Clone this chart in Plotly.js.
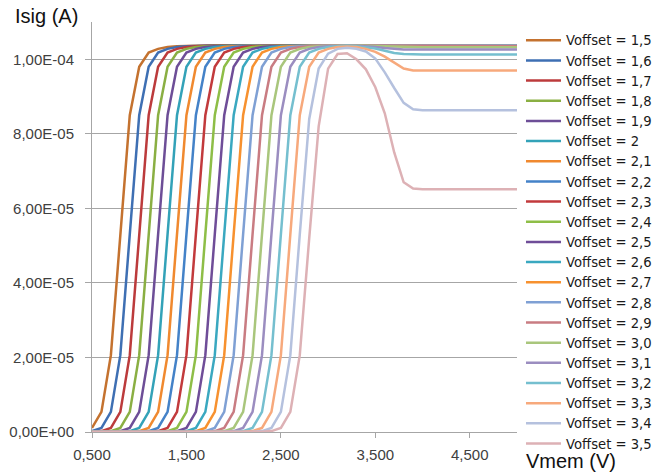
<!DOCTYPE html>
<html>
<head>
<meta charset="utf-8">
<script src="https://cdn.plot.ly/plotly-3.0.1.min.js"></script>
<style>html,body{margin:0;padding:0;background:#fff;}#chart{width:670px;height:476px;}</style>
</head>
<body>
<div id="chart"></div>
<script>
// Vmem (V) sample points
const vmem = [0.5,0.6,0.7,0.8,0.9,1.0,1.1,1.2,1.3,1.4,1.5,1.6,1.7,1.8,1.9,2.0,2.1,2.2,2.3,2.4,2.5,2.6,2.7,2.8,2.9,3.0,3.1,3.2,3.3,3.4,3.5,3.6,3.7,3.8,3.9,4.0,4.1,4.2,4.3,4.4,4.5,4.6,4.7,4.8,4.9,5.0];

const seriesNames = ["Voffset = 1,5","Voffset = 1,6","Voffset = 1,7","Voffset = 1,8","Voffset = 1,9","Voffset = 2","Voffset = 2,1","Voffset = 2,2","Voffset = 2,3","Voffset = 2,4","Voffset = 2,5","Voffset = 2,6","Voffset = 2,7","Voffset = 2,8","Voffset = 2,9","Voffset = 3,0","Voffset = 3,1","Voffset = 3,2","Voffset = 3,3","Voffset = 3,4","Voffset = 3,5"];

// Isig (A) for each Voffset
const isig_1_5 = [1.1e-6,5.4e-6,20.6e-6,53e-6,85e-6,98e-6,101.8e-6,102.8e-6,103.3e-6,103.5e-6,103.6e-6,103.7e-6,103.7e-6,103.7e-6,103.7e-6,103.7e-6,103.7e-6,103.7e-6,103.7e-6,103.7e-6,103.7e-6,103.7e-6,103.7e-6,103.7e-6,103.7e-6,103.7e-6,103.7e-6,103.7e-6,103.7e-6,103.7e-6,103.7e-6,103.7e-6,103.7e-6,103.7e-6,103.7e-6,103.7e-6,103.7e-6,103.7e-6,103.7e-6,103.7e-6,103.7e-6,103.7e-6,103.7e-6,103.7e-6,103.7e-6,103.7e-6];
const isig_1_6 = [0.25e-6,1.1e-6,5.4e-6,20.6e-6,53e-6,85e-6,98e-6,101.8e-6,102.8e-6,103.3e-6,103.5e-6,103.6e-6,103.7e-6,103.7e-6,103.7e-6,103.7e-6,103.7e-6,103.7e-6,103.7e-6,103.7e-6,103.7e-6,103.7e-6,103.7e-6,103.7e-6,103.7e-6,103.7e-6,103.7e-6,103.7e-6,103.7e-6,103.7e-6,103.7e-6,103.7e-6,103.7e-6,103.7e-6,103.7e-6,103.7e-6,103.7e-6,103.7e-6,103.7e-6,103.7e-6,103.7e-6,103.7e-6,103.7e-6,103.7e-6,103.7e-6,103.7e-6];
const isig_1_7 = [0.05e-6,0.25e-6,1.1e-6,5.4e-6,20.6e-6,53e-6,85e-6,98e-6,101.8e-6,102.8e-6,103.3e-6,103.5e-6,103.6e-6,103.7e-6,103.7e-6,103.7e-6,103.7e-6,103.7e-6,103.7e-6,103.7e-6,103.7e-6,103.7e-6,103.7e-6,103.7e-6,103.7e-6,103.7e-6,103.7e-6,103.7e-6,103.7e-6,103.7e-6,103.7e-6,103.7e-6,103.7e-6,103.7e-6,103.7e-6,103.7e-6,103.7e-6,103.7e-6,103.7e-6,103.7e-6,103.7e-6,103.7e-6,103.7e-6,103.7e-6,103.7e-6,103.7e-6];
const isig_1_8 = [0,0.05e-6,0.25e-6,1.1e-6,5.4e-6,20.6e-6,53e-6,85e-6,98e-6,101.8e-6,102.8e-6,103.3e-6,103.5e-6,103.6e-6,103.7e-6,103.7e-6,103.7e-6,103.7e-6,103.7e-6,103.7e-6,103.7e-6,103.7e-6,103.7e-6,103.7e-6,103.7e-6,103.7e-6,103.7e-6,103.7e-6,103.7e-6,103.7e-6,103.7e-6,103.7e-6,103.7e-6,103.7e-6,103.7e-6,103.7e-6,103.7e-6,103.7e-6,103.7e-6,103.7e-6,103.7e-6,103.7e-6,103.7e-6,103.7e-6,103.7e-6,103.7e-6];
const isig_1_9 = [0,0,0.05e-6,0.25e-6,1.1e-6,5.4e-6,20.6e-6,53e-6,85e-6,98e-6,101.8e-6,102.8e-6,103.3e-6,103.5e-6,103.6e-6,103.7e-6,103.7e-6,103.7e-6,103.7e-6,103.7e-6,103.7e-6,103.7e-6,103.7e-6,103.7e-6,103.7e-6,103.7e-6,103.7e-6,103.7e-6,103.7e-6,103.7e-6,103.7e-6,103.7e-6,103.7e-6,103.7e-6,103.7e-6,103.7e-6,103.7e-6,103.7e-6,103.7e-6,103.7e-6,103.7e-6,103.7e-6,103.7e-6,103.7e-6,103.7e-6,103.7e-6];
const isig_2_0 = [0,0,0,0.05e-6,0.25e-6,1.1e-6,5.4e-6,20.6e-6,53e-6,85e-6,98e-6,101.8e-6,102.8e-6,103.3e-6,103.5e-6,103.6e-6,103.7e-6,103.7e-6,103.7e-6,103.7e-6,103.7e-6,103.7e-6,103.7e-6,103.7e-6,103.7e-6,103.7e-6,103.7e-6,103.7e-6,103.7e-6,103.7e-6,103.7e-6,103.7e-6,103.7e-6,103.7e-6,103.7e-6,103.7e-6,103.7e-6,103.7e-6,103.7e-6,103.7e-6,103.7e-6,103.7e-6,103.7e-6,103.7e-6,103.7e-6,103.7e-6];
const isig_2_1 = [0,0,0,0,0.05e-6,0.25e-6,1.1e-6,5.4e-6,20.6e-6,53e-6,85e-6,98e-6,101.8e-6,102.8e-6,103.3e-6,103.5e-6,103.6e-6,103.7e-6,103.7e-6,103.7e-6,103.7e-6,103.7e-6,103.7e-6,103.7e-6,103.7e-6,103.7e-6,103.7e-6,103.7e-6,103.7e-6,103.7e-6,103.7e-6,103.7e-6,103.7e-6,103.7e-6,103.7e-6,103.7e-6,103.7e-6,103.7e-6,103.7e-6,103.7e-6,103.7e-6,103.7e-6,103.7e-6,103.7e-6,103.7e-6,103.7e-6];
const isig_2_2 = [0,0,0,0,0,0.05e-6,0.25e-6,1.1e-6,5.4e-6,20.6e-6,53e-6,85e-6,98e-6,101.8e-6,102.8e-6,103.3e-6,103.5e-6,103.6e-6,103.7e-6,103.7e-6,103.7e-6,103.7e-6,103.7e-6,103.7e-6,103.7e-6,103.7e-6,103.7e-6,103.7e-6,103.7e-6,103.7e-6,103.7e-6,103.7e-6,103.7e-6,103.7e-6,103.7e-6,103.7e-6,103.7e-6,103.7e-6,103.7e-6,103.7e-6,103.7e-6,103.7e-6,103.7e-6,103.7e-6,103.7e-6,103.7e-6];
const isig_2_3 = [0,0,0,0,0,0,0.05e-6,0.25e-6,1.1e-6,5.4e-6,20.6e-6,53e-6,85e-6,98e-6,101.8e-6,102.8e-6,103.3e-6,103.5e-6,103.6e-6,103.7e-6,103.7e-6,103.7e-6,103.7e-6,103.7e-6,103.7e-6,103.7e-6,103.7e-6,103.7e-6,103.7e-6,103.7e-6,103.7e-6,103.7e-6,103.7e-6,103.7e-6,103.7e-6,103.7e-6,103.7e-6,103.7e-6,103.7e-6,103.7e-6,103.7e-6,103.7e-6,103.7e-6,103.7e-6,103.7e-6,103.7e-6];
const isig_2_4 = [0,0,0,0,0,0,0,0.05e-6,0.25e-6,1.1e-6,5.4e-6,20.6e-6,53e-6,85e-6,98e-6,101.8e-6,102.8e-6,103.3e-6,103.5e-6,103.6e-6,103.7e-6,103.7e-6,103.7e-6,103.7e-6,103.7e-6,103.7e-6,103.7e-6,103.7e-6,103.7e-6,103.7e-6,103.7e-6,103.7e-6,103.7e-6,103.7e-6,103.7e-6,103.7e-6,103.7e-6,103.7e-6,103.7e-6,103.7e-6,103.7e-6,103.7e-6,103.7e-6,103.7e-6,103.7e-6,103.7e-6];
const isig_2_5 = [0,0,0,0,0,0,0,0,0.05e-6,0.25e-6,1.1e-6,5.4e-6,20.6e-6,53e-6,85e-6,98e-6,101.8e-6,102.8e-6,103.3e-6,103.5e-6,103.6e-6,103.7e-6,103.7e-6,103.7e-6,103.7e-6,103.7e-6,103.7e-6,103.7e-6,103.7e-6,103.7e-6,103.7e-6,103.7e-6,103.7e-6,103.7e-6,103.7e-6,103.7e-6,103.7e-6,103.7e-6,103.7e-6,103.7e-6,103.7e-6,103.7e-6,103.7e-6,103.7e-6,103.7e-6,103.7e-6];
const isig_2_6 = [0,0,0,0,0,0,0,0,0,0.05e-6,0.25e-6,1.1e-6,5.4e-6,20.6e-6,53e-6,85e-6,98e-6,101.8e-6,102.8e-6,103.3e-6,103.5e-6,103.6e-6,103.7e-6,103.7e-6,103.7e-6,103.7e-6,103.7e-6,103.7e-6,103.7e-6,103.7e-6,103.7e-6,103.7e-6,103.7e-6,103.7e-6,103.7e-6,103.7e-6,103.7e-6,103.7e-6,103.7e-6,103.7e-6,103.7e-6,103.7e-6,103.7e-6,103.7e-6,103.7e-6,103.7e-6];
const isig_2_7 = [0,0,0,0,0,0,0,0,0,0,0.05e-6,0.25e-6,1.1e-6,5.4e-6,20.6e-6,53e-6,85e-6,98e-6,101.8e-6,102.8e-6,103.3e-6,103.5e-6,103.6e-6,103.7e-6,103.7e-6,103.7e-6,103.7e-6,103.7e-6,103.7e-6,103.7e-6,103.7e-6,103.7e-6,103.7e-6,103.7e-6,103.7e-6,103.7e-6,103.7e-6,103.7e-6,103.7e-6,103.7e-6,103.7e-6,103.7e-6,103.7e-6,103.7e-6,103.7e-6,103.7e-6];
const isig_2_8 = [0,0,0,0,0,0,0,0,0,0,0,0.05e-6,0.25e-6,1.1e-6,5.4e-6,20.6e-6,53e-6,85e-6,98e-6,101.8e-6,102.8e-6,103.3e-6,103.5e-6,103.6e-6,103.7e-6,103.7e-6,103.7e-6,103.7e-6,103.7e-6,103.7e-6,103.7e-6,103.7e-6,103.7e-6,103.7e-6,103.7e-6,103.7e-6,103.7e-6,103.7e-6,103.7e-6,103.7e-6,103.7e-6,103.7e-6,103.7e-6,103.7e-6,103.7e-6,103.7e-6];
const isig_2_9 = [0,0,0,0,0,0,0,0,0,0,0,0,0.05e-6,0.25e-6,1.1e-6,5.4e-6,20.6e-6,53e-6,85e-6,98e-6,101.8e-6,102.8e-6,103.3e-6,103.5e-6,103.6e-6,103.7e-6,103.7e-6,103.7e-6,103.7e-6,103.7e-6,103.6e-6,103.5e-6,103.5e-6,103.5e-6,103.5e-6,103.5e-6,103.5e-6,103.5e-6,103.5e-6,103.5e-6,103.5e-6,103.5e-6,103.5e-6,103.5e-6,103.5e-6,103.5e-6];
const isig_3_0 = [0,0,0,0,0,0,0,0,0,0,0,0,0,0.05e-6,0.25e-6,1.1e-6,5.4e-6,20.6e-6,53e-6,85e-6,98e-6,101.8e-6,102.8e-6,103.3e-6,103.5e-6,103.6e-6,103.7e-6,103.7e-6,103.7e-6,103.6e-6,103.5e-6,103.4e-6,103.3e-6,103.2e-6,103.2e-6,103.2e-6,103.2e-6,103.2e-6,103.2e-6,103.2e-6,103.2e-6,103.2e-6,103.2e-6,103.2e-6,103.2e-6,103.2e-6];
const isig_3_1 = [0,0,0,0,0,0,0,0,0,0,0,0,0,0,0.05e-6,0.25e-6,1.1e-6,5.4e-6,20.6e-6,53e-6,85e-6,98e-6,101.8e-6,102.8e-6,103.3e-6,103.5e-6,103.6e-6,103.6e-6,103.6e-6,103.5e-6,103.3e-6,103.0e-6,102.8e-6,102.6e-6,102.6e-6,102.6e-6,102.6e-6,102.6e-6,102.6e-6,102.6e-6,102.6e-6,102.6e-6,102.6e-6,102.6e-6,102.6e-6,102.6e-6];
const isig_3_2 = [0,0,0,0,0,0,0,0,0,0,0,0,0,0,0,0.05e-6,0.25e-6,1.1e-6,5.4e-6,20.6e-6,53e-6,85e-6,98e-6,101.8e-6,102.8e-6,103.3e-6,103.5e-6,103.6e-6,103.5e-6,103.3e-6,102.9e-6,102.3e-6,101.7e-6,101.4e-6,101.3e-6,101.3e-6,101.3e-6,101.3e-6,101.3e-6,101.3e-6,101.3e-6,101.3e-6,101.3e-6,101.3e-6,101.3e-6,101.3e-6];
const isig_3_3 = [0,0,0,0,0,0,0,0,0,0,0,0,0,0,0,0,0.05e-6,0.25e-6,1.1e-6,5.4e-6,20.6e-6,53e-6,85e-6,98e-6,101.8e-6,102.8e-6,103.3e-6,103.4e-6,103.3e-6,102.8e-6,102.0e-6,100.7e-6,99.0e-6,97.5e-6,97.0e-6,97.0e-6,97.0e-6,97.0e-6,97.0e-6,97.0e-6,97.0e-6,97.0e-6,97.0e-6,97.0e-6,97.0e-6,97.0e-6];
const isig_3_4 = [0,0,0,0,0,0,0,0,0,0,0,0,0,0,0,0,0,0.05e-6,0.25e-6,1.1e-6,5.4e-6,20.6e-6,53e-6,84e-6,97.5e-6,101.5e-6,102.8e-6,103.1e-6,102.8e-6,102.1e-6,100.2e-6,96.5e-6,92.3e-6,88.3e-6,86.6e-6,86.3e-6,86.3e-6,86.3e-6,86.3e-6,86.3e-6,86.3e-6,86.3e-6,86.3e-6,86.3e-6,86.3e-6,86.3e-6];
const isig_3_5 = [0,0,0,0,0,0,0,0,0,0,0,0,0,0,0,0,0,0,0.05e-6,0.25e-6,1.1e-6,5.4e-6,20.6e-6,52e-6,82e-6,97.5e-6,101.4e-6,101.6e-6,100.0e-6,97.3e-6,92.5e-6,85.5e-6,75.0e-6,67.0e-6,65.3e-6,65.1e-6,65.1e-6,65.1e-6,65.1e-6,65.1e-6,65.1e-6,65.1e-6,65.1e-6,65.1e-6,65.1e-6,65.1e-6];

const seriesValues = [isig_1_5,isig_1_6,isig_1_7,isig_1_8,isig_1_9,isig_2_0,isig_2_1,isig_2_2,isig_2_3,isig_2_4,isig_2_5,isig_2_6,isig_2_7,isig_2_8,isig_2_9,isig_3_0,isig_3_1,isig_3_2,isig_3_3,isig_3_4,isig_3_5];

const seriesColors = ["#C4722F","#3E6FB3","#BC3B3C","#8AAF43","#6D4E97","#33A2B8","#F0892F","#4482C8","#C23A3C","#8EBE47","#6F4D98","#3AA8C0","#F7912F","#7FA0D4","#C97C82","#A9C67C","#9B8DC0","#75BFCF","#F7A97C","#B5C1DE","#DDB1B5"];

const xTickVals = [0.5,1.5,2.5,3.5,4.5];
const xTickText = ["0,500","1,500","2,500","3,500","4,500"];
const yTickVals = [0,2e-5,4e-5,6e-5,8e-5,1e-4];
const yTickText = ["0,00E+00","2,00E-05","4,00E-05","6,00E-05","8,00E-05","1,00E-04"];

const traces = seriesNames.map((name, k) => ({
  type: 'scatter',
  mode: 'lines',
  name: name,
  x: vmem,
  y: seriesValues[k],
  line: {color: seriesColors[k], width: 2.5}
}));

const axisColor = '#A6A6A6';
const tickFont = {family: 'Liberation Sans, Arial, sans-serif', size: 15, color: '#404040'};

const layout = {
  width: 670,
  height: 476,
  margin: {l: 92, r: 153, t: 22, b: 44, pad: 0},
  paper_bgcolor: '#ffffff',
  plot_bgcolor: '#ffffff',
  showlegend: true,
  xaxis: {
    range: [0.5, 5.0],
    tickmode: 'array',
    tickvals: xTickVals,
    ticktext: xTickText,
    showgrid: false,
    zeroline: false,
    showline: true,
    linecolor: axisColor,
    linewidth: 1,
    ticks: 'outside',
    ticklen: 5,
    tickcolor: axisColor,
    tickfont: tickFont,
    ticklabelstandoff: 4
  },
  yaxis: {
    range: [0, 1.1e-4],
    tickmode: 'array',
    tickvals: yTickVals,
    ticktext: yTickText,
    showgrid: true,
    gridcolor: axisColor,
    gridwidth: 1,
    zeroline: false,
    showline: true,
    linecolor: axisColor,
    linewidth: 1,
    ticks: 'outside',
    ticklen: 6,
    tickcolor: axisColor,
    tickfont: tickFont,
    ticklabelstandoff: 8
  },
  legend: {
    x: 1.0094,
    xanchor: 'left',
    y: 0.9922,
    yanchor: 'top',
    maxheight: 470,
    font: {family: 'DejaVu Sans, sans-serif', size: 13.2, color: '#1a1a1a'},
    itemwidth: 35,
    bgcolor: 'rgba(0,0,0,0)',
    borderwidth: 0,
    tracegroupgap: 0
  },
  annotations: [
    {text: 'Isig (A)', xref: 'paper', yref: 'paper', x: -0.1859, y: 1.0146, xanchor: 'left', yanchor: 'middle', showarrow: false,
     font: {family: 'Liberation Sans, Arial, sans-serif', size: 20, color: '#111111'}},
    {text: 'Vmem (V)', xref: 'paper', yref: 'paper', x: 1.0165, y: -0.0707, xanchor: 'left', yanchor: 'middle', showarrow: false,
     font: {family: 'Liberation Sans, Arial, sans-serif', size: 20, color: '#111111'}}
  ]
};

Plotly.newPlot('chart', traces, layout, {displayModeBar: false, staticPlot: true});
</script>
</body>
</html>
